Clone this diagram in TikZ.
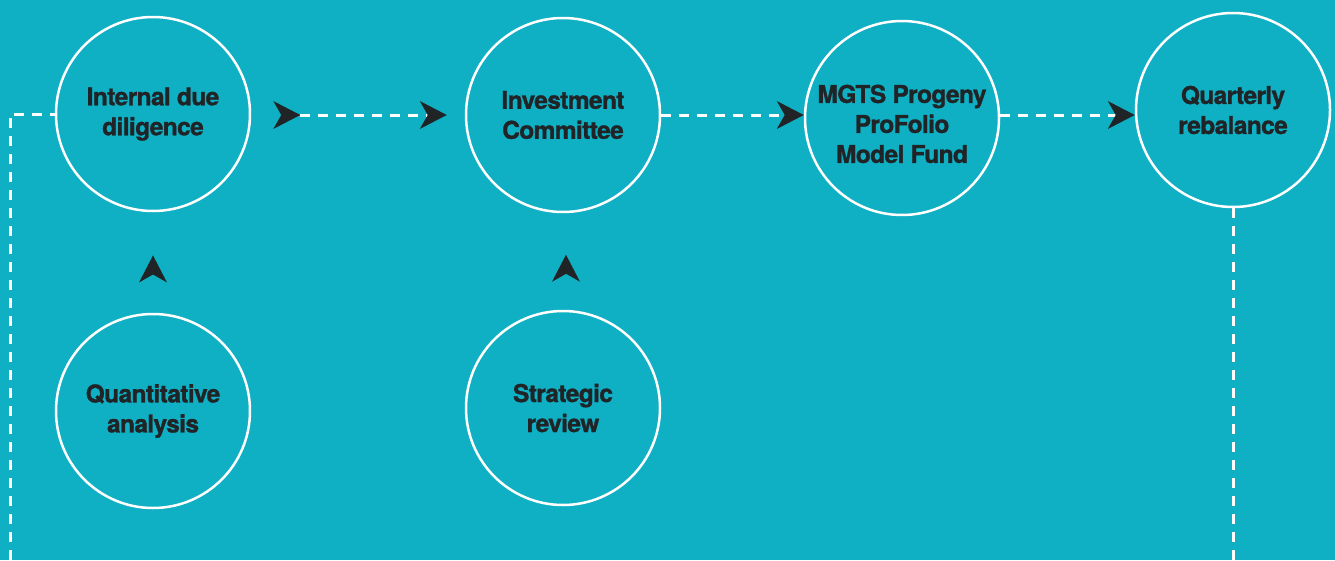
\documentclass[tikz,border=0pt]{standalone}
\usepackage{fontspec}
\setmainfont{TeX Gyre Heros}[LetterSpace=-2.5,FakeBold=1.2]
\usetikzlibrary{arrows.meta,decorations.markings}
\definecolor{panel}{HTML}{0FB0C4}
\definecolor{ink}{HTML}{202426}

\begin{document}
\begin{tikzpicture}[x=1pt,y=-1pt,
  stage/.style={circle,draw=white,line width=2.5pt,minimum size=194pt,inner sep=0pt,
    align=center,text=ink,font=\fontsize{24.5}{30}\selectfont\bfseries},
  flow/.style={draw=white,line width=3pt,dash pattern=on 10pt off 8pt},
  flowtip/.tip={Stealth[length=27pt,width=28pt,inset=8pt,line width=0pt,color=ink]},
  lead/.style={decoration={markings,mark=at position #1 with {\arrow{flowtip}}},
    postaction={decorate}}]
\useasboundingbox (0,0) rectangle (1335,560);
\fill[panel] (0,0) rectangle (1335,560);

\node[stage] (idd) at (153,114) {Internal due\\diligence};
\node[stage] (ic) at (563,115) {Investment\\Committee};
\node[stage] (mgts) at (902,118) {\rule{0pt}{30pt}MGTS Progeny\\ProFolio\\Model Fund};
\node[stage] (qr) at (1233,110) {Quarterly\\rebalance};
\node[stage] (qa) at (153,411) {Quantitative\\analysis};
\node[stage] (sr) at (563,408) {Strategic\\review};

\coordinate (loopin) at (10,560);
\coordinate (loopout) at (1233,560);

% main line
\draw[flow,-flowtip,lead=0] ([xshift=49pt]idd.east |- ic.west) -- ([xshift=-18pt]ic.west);
\draw[flow,-flowtip] (ic.east) -- (ic.east -| mgts.west);
\draw[flow,-flowtip] (ic.east -| mgts.east) -- (ic.east -| qr.west);
\draw[flow] (qr.south) -- (loopout);
\draw[flow] (loopin) |- (idd.west);

% inputs
\path[lead=0.57] (qa.north) -- (idd.south);
\path[lead=0.57] ([xshift=3pt]sr.north) -- ([xshift=3pt]ic.south);
\end{tikzpicture}
\end{document}
